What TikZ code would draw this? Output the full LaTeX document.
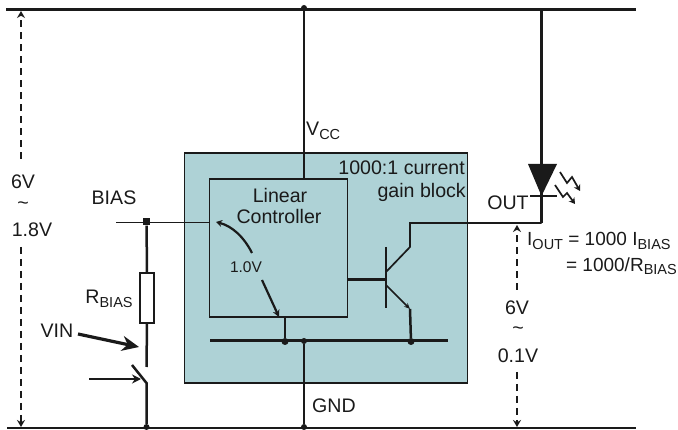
\documentclass[tikz,border=0pt]{standalone}
\usepackage{fontspec}
\setmainfont{Liberation Sans}
\usepackage{xcolor}
\usetikzlibrary{calc,positioning,arrows.meta}
\definecolor{blockfill}{HTML}{AED2D6}
\definecolor{inkdark}{HTML}{1A1A1A}
\newcommand{\lowsub}[1]{\raisebox{-0.36ex}{\fontsize{14.5}{14.5}\selectfont #1}}
\tikzset{
    railwire/.style={draw=inkdark, line width=2.8pt},
    wire/.style={draw=inkdark, line width=1.7pt},
    heavywire/.style={draw=inkdark, line width=2.5pt},
    boxline/.style={draw=inkdark, line width=1.7pt},
    vdrop/.style={draw=inkdark, line width=2.4pt, dash pattern=on 7pt off 5pt, -{Stealth[length=7pt,width=8pt]}},
    joint/.style={circle, fill=inkdark, inner sep=0pt, minimum size=7pt},
    label/.style={inner sep=0pt, font=\fontsize{19.6}{22}\selectfont, text=inkdark},
    eqlabel/.style={inner sep=0pt, font=\fontsize{19}{22}\selectfont, text=inkdark},
    smalllabel/.style={inner sep=0pt, font=\fontsize{15.5}{17}\selectfont, text=inkdark}
}

\begin{document}
\begin{tikzpicture}[x=1pt, y=-1pt]
    \useasboundingbox (0,0) rectangle (678,430);

    % Gain block
    \node[boxline, fill=blockfill, minimum width=283pt, minimum height=230pt, inner sep=0pt, anchor=north west] (block) at (183.5,152.5) {};
    \node[boxline, minimum width=138pt, minimum height=137.5pt, inner sep=0pt, anchor=north west] (ctrl) at (208.5,178.5) {};

    % Rails
    \coordinate (topL) at (6,9.5);
    \coordinate (topR) at (636,9.5);
    \coordinate (botL) at (7,428);
    \coordinate (botR) at (636,428);
    \draw[railwire] (topL) -- (topR);
    \draw[railwire] (botL) -- (botR);

    % Supply and ground
    \node[joint, minimum size=6pt] (vccJ) at (304,8) {};
    \draw[wire] (vccJ) -- (ctrl.north -| vccJ);
    \coordinate (gndL) at (210,340.5);
    \coordinate (gndR) at (448,340.5);
    \draw[railwire] (gndL) -- (gndR);
    \node[joint] (gndA) at (285,341.5) {};
    \node[joint, minimum size=6pt] (gndB) at (304,341) {};
    \node[joint] (gndC) at (411,341.5) {};
    \node[joint, minimum size=6pt] (gndD) at (304,427) {};
    \draw[wire] (gndB) -- (gndD);
    \draw[heavywire] (ctrl.south -| gndA) -- (gndA);

    % Transistor
    \coordinate (baseT) at (386,247);
    \coordinate (baseB) at (386,308);
    \coordinate (baseM) at (386,279.5);
    \draw[heavywire] (baseT) -- (baseB);
    \draw[heavywire] (ctrl.east |- baseM) -- (baseM);
    \coordinate (collA) at (386,272);
    \coordinate (collB) at (410,247);
    \coordinate (collC) at (410,223);
    \coordinate (outJ) at (541.5,223);
    \draw[wire] (collA) -- (collB) -- (collC) -- (outJ);
    \coordinate (emitA) at (386,285);
    \coordinate (emitB) at (410,309);
    \draw[wire, -{Stealth[length=6pt,width=5pt]}] (emitA) -- (emitB);
    \draw[heavywire] (emitB) -- (gndC);

    % LED
    \coordinate (ledTop) at (541.5,9.5);
    \coordinate (ledA) at (528,164);
    \coordinate (ledB) at (557,164);
    \coordinate (ledC) at (541.5,196);
    \coordinate (ledL) at (530,196);
    \coordinate (ledR) at (557,196);
    \draw[railwire] (ledTop) -- (outJ);
    \fill[inkdark] (ledA) -- (ledB) -- (ledC) -- cycle;
    \draw[heavywire] (ledL) -- (ledR);
    \coordinate (rayA) at (560,172);
    \coordinate (rayB) at (567,183);
    \coordinate (rayC) at (572,177);
    \coordinate (rayD) at (580,191);
    \coordinate (rayE) at (555,185);
    \coordinate (rayF) at (563,197);
    \coordinate (rayG) at (567,193);
    \coordinate (rayH) at (575,204);
    \draw[wire, -{Stealth[length=6pt,width=7pt]}] (rayA) -- (rayB) -- (rayC) -- (rayD);
    \draw[wire, -{Stealth[length=6pt,width=7pt]}] (rayE) -- (rayF) -- (rayG) -- (rayH);

    % Bias branch
    \coordinate (biasL) at (116,222.5);
    \node[fill=inkdark, inner sep=0pt, minimum size=7pt] (biasJ) at (146.5,222) {};
    \draw[wire] (biasL) -- (ctrl.west |- biasL);
    \node[boxline, fill=white, minimum width=14pt, minimum height=50pt, inner sep=0pt] (rbias) at (147,298) {};
    \draw[heavywire] (biasJ) -- (rbias.north);
    \coordinate (swTop) at (146.5,367);
    \coordinate (swPivot) at (146.5,383);
    \coordinate (swEnd) at (132,365);
    \draw[heavywire] (rbias.south) -- (swTop);
    \node[joint, minimum size=6pt] (swGnd) at (146.5,427) {};
    \draw[heavywire] (swEnd) -- (swPivot) -- (swGnd);
    \coordinate (swIn) at (89,379);
    \coordinate (swTip) at (141,379);
    \draw[wire, -{Stealth[length=9pt,width=9pt]}] (swIn) -- (swTip);
    \coordinate (vinA) at (78,334);
    \coordinate (vinB) at (139,347);
    \draw[draw=inkdark, line width=3.2pt, -{Stealth[length=17pt,width=15pt]}] (vinA) -- (vinB);

    % Linear controller voltage
    \node[smalllabel] (oneV) at (246,267) {1.0V};
    \coordinate (arcA) at (252,253);
    \coordinate (arcB) at (216,222);
    \coordinate (arcC) at (262,280);
    \coordinate (arcD) at (279,317);
    \draw[wire, line width=2.2pt, -{Stealth[length=6pt,width=7pt]}] (arcA) .. controls (244,237) and (232,226) .. (arcB);
    \draw[wire, line width=2.2pt, -{Stealth[length=7pt,width=7pt]}] (arcC) -- (arcD);

    % Voltage ranges
    \node[label] (leftHi) at (23,182) {6V};
    \node[label] (leftTilde) at (23,206) {\textasciitilde};
    \node[label] (leftLo) at (32,230) {1.8V};
    \coordinate (leftTop) at (21,11);
    \coordinate (leftUp) at (21,159);
    \coordinate (leftDn) at (21,247);
    \coordinate (leftBot) at (21,427);
    \draw[vdrop] (leftUp) -- (leftTop);
    \draw[vdrop] (leftDn) -- (leftBot);
    \node[label] (rightHi) at (517,308) {6V};
    \node[label] (rightTilde) at (518,331) {\textasciitilde};
    \node[label] (rightLo) at (518,356) {0.1V};
    \coordinate (rightTop) at (517,225);
    \coordinate (rightUp) at (517,290);
    \coordinate (rightDn) at (517,372);
    \coordinate (rightBot) at (517,427);
    \draw[vdrop] (rightUp) -- (rightTop);
    \draw[vdrop] (rightDn) -- (rightBot);

    % Labels
    \node[label, anchor=west] (vcc) at (306,131) {V\lowsub{CC}};
    \node[label, anchor=east] (gainA) at (465,168) {1000:1 current};
    \node[label, anchor=east] (gainB) at (466,192) {gain block};
    \node[label] (ctrlA) at (280,195) {Linear};
    \node[label] (ctrlB) at (279,216) {Controller};
    \node[label] (bias) at (114,198) {BIAS};
    \node[label] (rbiasL) at (109,299) {R\lowsub{BIAS}};
    \node[label] (vin) at (57,331) {VIN};
    \node[label] (out) at (508,203) {OUT};
    \node[label, anchor=west] (gnd) at (312,406) {GND};
    \node[eqlabel, anchor=west] (iout) at (527,241) {I\lowsub{OUT} = 1000 I\lowsub{BIAS}};
    \node[eqlabel, anchor=east] (ioutB) at (677,266) {= 1000/R\lowsub{BIAS}};
\end{tikzpicture}
\end{document}
